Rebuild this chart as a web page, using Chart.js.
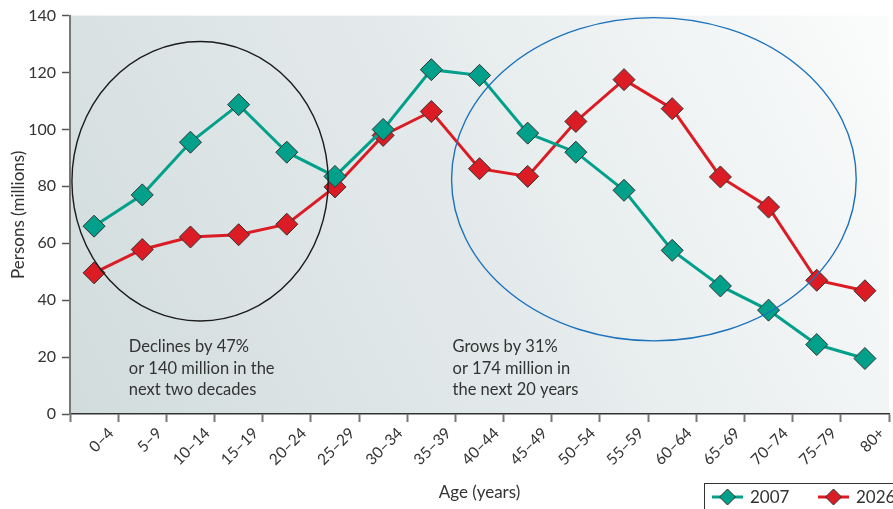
<!DOCTYPE html>
<html>
<head>
<meta charset="utf-8">
<script src="https://cdn.jsdelivr.net/npm/chart.js@4"></script>
<style>
  html, body { margin: 0; background: #fff; overflow: hidden; }
  canvas { display: block; }
</style>
</head>
<body>
<canvas id="myChart" width="893" height="509"></canvas>
<script>
const ageGroups = ['0–4', '5–9', '10–14', '15–19', '20–24', '25–29', '30–34', '35–39', '40–44',
  '45–49', '50–54', '55–59', '60–64', '65–69', '70–74', '75–79', '80+'];
const pop2007 = [66, 77, 95.5, 108.7, 92, 83.5, 100, 121, 119, 98.7, 92, 78.6, 57.5, 45, 36.5, 24.4, 19.5];
const pop2026 = [49.6, 57.8, 62.2, 63, 66.7, 79.8, 97.9, 106.3, 86.2, 83.5, 102.8, 117.5, 107.3, 83.3, 72.7, 47, 43.3];
const yTicks = [0, 20, 40, 60, 80, 100, 120, 140];

const noteLeft = ['Declines by 47%', 'or 140 million in the', 'next two decades'];
const noteRight = ['Grows by 31%', 'or 174 million in', 'the next 20 years'];

const green = '#00a08a';
const red = '#dc1c24';
const FONT = 'Lato, "Open Sans", sans-serif';

const backdrop = {
  id: 'backdrop',
  beforeDraw(chart) {
    const { ctx, chartArea: a } = chart;
    const g = ctx.createLinearGradient(a.left, a.bottom, a.right, a.top);
    g.addColorStop(0, '#d2dcdd');
    g.addColorStop(0.5, '#e4eaeb');
    g.addColorStop(1, '#fbfcfc');
    ctx.save();
    ctx.fillStyle = g;
    ctx.fillRect(a.left, a.top, a.right - a.left, a.bottom - a.top);
    ctx.restore();
  }
};

// ellipses and notes, placed in data units through the scales
function ring(chart, cx, cy, rx, ry, color) {
  const x = chart.scales.x, y = chart.scales.y;
  const px = x.getPixelForValue(cx), py = y.getPixelForValue(cy);
  const prx = x.getPixelForValue(cx + rx) - px;
  const pry = py - y.getPixelForValue(cy + ry);
  const ctx = chart.ctx;
  ctx.save();
  ctx.strokeStyle = color;
  ctx.lineWidth = 1.4;
  ctx.beginPath();
  ctx.ellipse(px, py, prx, pry, 0, 0, Math.PI * 2);
  ctx.stroke();
  ctx.restore();
}

function note(chart, lines, cx, cy) {
  const ctx = chart.ctx;
  const px = chart.scales.x.getPixelForValue(cx);
  const py = chart.scales.y.getPixelForValue(cy);
  ctx.save();
  ctx.fillStyle = '#333';
  ctx.font = '16.5px ' + FONT;
  ctx.textBaseline = 'middle';
  lines.forEach((t, i) => ctx.fillText(t, px, py + i * 21.5));
  ctx.restore();
}

const extras = {
  id: 'extras',
  afterDatasetsDraw(chart) {
    ring(chart, 2.2, 81.8, 2.66, 49.1, '#1c1c1c');
    ring(chart, 11.62, 82.5, 4.2, 56.8, '#1b72bd');
    note(chart, noteLeft, 0.72, 23.5);
    note(chart, noteRight, 7.44, 23.5);
  },
  afterDraw(chart) {
    const ctx = chart.ctx;
    ctx.save();
    ctx.strokeStyle = '#333';
    ctx.lineWidth = 1;
    ctx.strokeRect(704.5, 483.5, 200, 40);
    chart.data.datasets.forEach((ds, i) => {
      const x0 = 712 + i * 106, yy = 497;
      ctx.strokeStyle = ds.borderColor;
      ctx.lineWidth = 3;
      ctx.beginPath(); ctx.moveTo(x0, yy); ctx.lineTo(x0 + 31, yy); ctx.stroke();
      ctx.fillStyle = ds.pointBackgroundColor;
      ctx.strokeStyle = '#333';
      ctx.lineWidth = 1;
      ctx.beginPath();
      ctx.moveTo(x0 + 15.5, yy - 8); ctx.lineTo(x0 + 23.5, yy);
      ctx.lineTo(x0 + 15.5, yy + 8); ctx.lineTo(x0 + 7.5, yy);
      ctx.closePath(); ctx.fill(); ctx.stroke();
      ctx.fillStyle = '#333';
      ctx.font = '17px ' + FONT;
      ctx.textBaseline = 'middle';
      ctx.fillText(ds.label, x0 + 38, yy + 1);
    });
    ctx.restore();
  }
};

function series(label, data, color) {
  return {
    label: label,
    data: data,
    borderColor: color,
    borderWidth: 3,
    pointStyle: 'rectRot',
    pointRadius: 11,
    pointHoverRadius: 11,
    pointBackgroundColor: color,
    pointBorderColor: '#333',
    pointBorderWidth: 1,
    tension: 0,
    clip: false
  };
}

const ctx = document.getElementById('myChart').getContext('2d');
const myChart = new Chart(ctx, {
  type: 'line',
  data: {
    labels: ageGroups,
    datasets: [series('2007', pop2007, green), series('2026', pop2026, red)]
  },
  plugins: [backdrop, extras],
  options: {
    responsive: false,
    animation: false,
    layout: { autoPadding: false, padding: { top: 15, right: 4, left: 0, bottom: 0 } },
    plugins: {
      legend: { display: false },
      tooltip: { enabled: false }
    },
    scales: {
      x: {
        offset: true,
        afterFit(scale) { scale.height = 95; scale.paddingRight = 0; },
        border: { color: '#333', width: 1.5 },
        grid: { offset: true, drawOnChartArea: false, tickLength: 8, color: '#777', tickWidth: 2 },
        ticks: {
          minRotation: 45, maxRotation: 45, labelOffset: 17, padding: 2,
          color: '#333', font: { family: FONT, size: 15.5 }
        },
        title: { display: true, text: 'Age (years)', color: '#333', font: { family: FONT, size: 17 }, padding: { top: 4, bottom: 6 } }
      },
      y: {
        min: 0, max: 140,
        afterFit(scale) { scale.width = 70; },
        afterBuildTicks(scale) { scale.ticks = yTicks.map(v => ({ value: v })); },
        border: { color: '#777', width: 2 },
        grid: { drawOnChartArea: false, tickLength: 8, color: '#555', tickWidth: 1.5 },
        ticks: { color: '#333', padding: 6, font: { family: FONT, size: 16 } },
        title: { display: true, text: 'Persons (millions)', color: '#333', font: { family: FONT, size: 17 }, padding: { top: 8, bottom: 0 } }
      }
    }
  }
});
</script>
</body>
</html>
